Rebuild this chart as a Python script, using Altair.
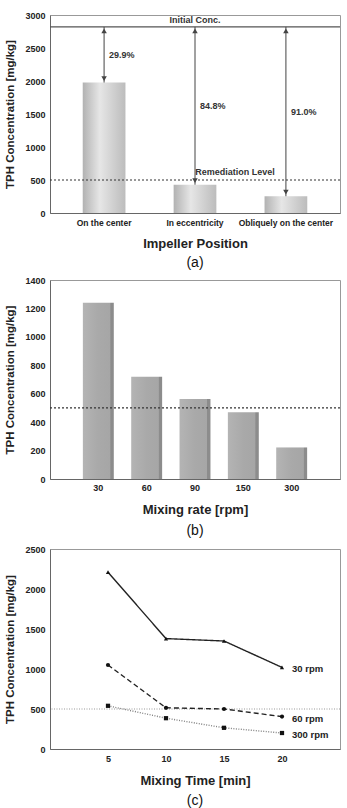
import altair as alt
import pandas as pd

FONT = "Liberation Sans"

# (a) TPH by impeller position
positions = ["On the center", "In eccentricity", "Obliquely on the center"]
tph_position = [1977, 429, 254]
removal_labels = ["29.9%", "84.8%", "91.0%"]
initial_conc = 2820
remediation_level = 500

# (b) TPH by mixing rate
mixing_rates = ["30", "60", "90", "150", "300"]
tph_rate = [1240, 720, 563, 470, 222]

# (c) TPH over mixing time for three mixing rates
mixing_times = [5, 10, 15, 20]
tph_30rpm = [2210, 1380, 1350, 1020]
tph_60rpm = [1050, 515, 500, 405]
tph_300rpm = [540, 385, 265, 200]
series_names = ["30 rpm", "60 rpm", "300 rpm"]

Y_TITLE = "TPH Concentration [mg/kg]"
PLOT_W = 290


def y_axis(values):
    return alt.Axis(values=values, format="d", title=Y_TITLE, labelPadding=5,
                    titlePadding=9, labelFontSize=9, titleFontSize=11.5)


def x_axis(title, label_size=8.5, label_pad=5, title_pad=8, **extra):
    return alt.Axis(title=title, labelAngle=0, labelPadding=label_pad,
                    titlePadding=title_pad, labelFontSize=label_size, titleFontSize=13,
                    **extra)


def sub_title(text, offset):
    return alt.TitleParams(text, orient="bottom", fontSize=14, fontWeight="normal",
                           offset=offset, anchor="middle", color="#111")


# ---------- panel (a) ----------
df_a = pd.DataFrame({"position": positions, "tph": tph_position,
                     "initial": [initial_conc] * len(positions),
                     "removal": removal_labels})
df_a["mid"] = (df_a["initial"] + df_a["tph"]) / 2

scale_ya = alt.Scale(domain=[0, 3000], nice=False)
axis_ya = y_axis(list(range(0, 3001, 500)))


def xa():
    return alt.X("position:N", sort=positions,
                 scale=alt.Scale(paddingInner=0.53, paddingOuter=0.36),
                 axis=x_axis("Impeller Position", title_pad=11))


def ya(field):
    return alt.Y(field, scale=scale_ya, axis=axis_ya)


cyl_fill = alt.Gradient(
    gradient="linear", x1=0, x2=1, y1=0, y2=0,
    stops=[alt.GradientStop(color="#b2b2b2", offset=0),
           alt.GradientStop(color="#e6e6e6", offset=0.4),
           alt.GradientStop(color="#bcbcbc", offset=1)])

base_a = alt.Chart(df_a)
bars_a = base_a.mark_bar(color=cyl_fill).encode(x=xa(), y=ya("tph:Q"))
arrows_a = base_a.mark_rule(color="#444", strokeWidth=1).encode(
    x=xa(), y=ya("initial:Q"), y2="tph:Q")
head_up = base_a.mark_point(shape="triangle-up", filled=True, size=30, color="#444",
                            opacity=1, yOffset=4).encode(x=xa(), y=ya("initial:Q"))
head_down = base_a.mark_point(shape="triangle-down", filled=True, size=30, color="#444",
                              opacity=1, yOffset=-4).encode(x=xa(), y=ya("tph:Q"))
pct_a = base_a.mark_text(align="left", dx=5, font=FONT, fontWeight="bold", fontSize=9,
                         color="#333").encode(x=xa(), y=ya("mid:Q"), text="removal:N")

ref_a = pd.DataFrame({"initial": [initial_conc], "remed": [remediation_level]})
init_line = alt.Chart(ref_a).mark_rule(color="#555", strokeWidth=1.2).encode(y=ya("initial:Q"))
init_text = alt.Chart(ref_a).mark_text(font=FONT, fontWeight="bold", fontSize=9, color="#333",
                                       dy=-7).encode(x=alt.value(PLOT_W / 2), y=ya("initial:Q"),
                                                     text=alt.value("Initial Conc."))
remed_line_a = alt.Chart(ref_a).mark_rule(color="#333", strokeWidth=1.2, strokeDash=[2, 2]).encode(
    y=ya("remed:Q"))
remed_text = alt.Chart(ref_a).mark_text(font=FONT, fontWeight="bold", fontSize=9, color="#333",
                                        dy=-8).encode(x=alt.value(185), y=ya("remed:Q"),
                                                      text=alt.value("Remediation Level"))

panel_a = alt.layer(bars_a, init_line, remed_line_a, arrows_a, head_up, head_down, pct_a,
                    init_text, remed_text).properties(
    width=PLOT_W, height=198, title=sub_title("(a)", 5))

# ---------- panel (b) ----------
df_b = pd.DataFrame({"rate": mixing_rates, "tph": tph_rate})
scale_yb = alt.Scale(domain=[0, 1400], nice=False)
axis_yb = y_axis(list(range(0, 1401, 200)))

granite_fill = alt.Gradient(
    gradient="linear", x1=0, x2=1, y1=0, y2=0,
    stops=[alt.GradientStop(color="#b4b4b4", offset=0),
           alt.GradientStop(color="#a9a9a9", offset=0.5),
           alt.GradientStop(color="#a6a6a6", offset=0.88),
           alt.GradientStop(color="#8c8c8c", offset=0.9),
           alt.GradientStop(color="#8c8c8c", offset=1)])

xb = alt.X("rate:N", sort=mixing_rates,
           scale=alt.Scale(paddingInner=0.36, paddingOuter=0.68),
           axis=x_axis("Mixing rate [rpm]", label_size=9, label_pad=4, title_pad=11))
bars_b = alt.Chart(df_b).mark_bar(color=granite_fill).encode(
    x=xb, y=alt.Y("tph:Q", scale=scale_yb, axis=axis_yb))
remed_line_b = alt.Chart(pd.DataFrame({"tph": [remediation_level]})).mark_rule(
    color="#333", strokeWidth=1.2, strokeDash=[2, 2]).encode(
    y=alt.Y("tph:Q", scale=scale_yb, axis=axis_yb))

panel_b = alt.layer(bars_b, remed_line_b).properties(
    width=PLOT_W, height=199, title=sub_title("(b)", 8))

# ---------- panel (c) ----------
rows = []
for name, vals in zip(series_names, [tph_30rpm, tph_60rpm, tph_300rpm]):
    for t, v in zip(mixing_times, vals):
        rows.append({"time": t, "tph": v, "series": name})
df_c = pd.DataFrame(rows)

scale_yc = alt.Scale(domain=[0, 2500], nice=False)
axis_yc = y_axis(list(range(0, 2501, 500)))
xc = alt.X("time:Q", scale=alt.Scale(domain=[0, 25], nice=False),
           axis=x_axis("Mixing Time [min]", label_size=9, label_pad=5, title_pad=11,
                       values=mixing_times))
yc = alt.Y("tph:Q", scale=scale_yc, axis=axis_yc)

sdom = alt.Scale(domain=series_names, range=["#222222", "#222222", "#808080"])
lines_c = alt.Chart(df_c).mark_line().encode(
    x=xc, y=yc,
    color=alt.Color("series:N", scale=sdom, legend=None),
    strokeDash=alt.StrokeDash("series:N", legend=None,
                              scale=alt.Scale(domain=series_names,
                                              range=[[1, 0], [5, 3], [1, 1.5]])),
    strokeWidth=alt.StrokeWidth("series:N", legend=None,
                                scale=alt.Scale(domain=series_names, range=[1.4, 1.4, 1.0])))
points_c = alt.Chart(df_c).mark_point(filled=True, size=18, color="#111", opacity=1).encode(
    x=xc, y=yc,
    shape=alt.Shape("series:N", legend=None,
                    scale=alt.Scale(domain=series_names,
                                    range=["triangle-up", "circle", "square"])))
labels_c = alt.Chart(df_c).transform_filter(alt.datum.time == max(mixing_times)).mark_text(
    align="left", dx=10, dy=2, font=FONT, fontWeight="bold", fontSize=9.5, color="#222").encode(
    x=xc, y=yc, text="series:N")
remed_line_c = alt.Chart(pd.DataFrame({"tph": [remediation_level]})).mark_rule(
    color="#999", strokeWidth=1, strokeDash=[1, 1.5]).encode(y=yc)

panel_c = alt.layer(remed_line_c, lines_c, points_c, labels_c).properties(
    width=PLOT_W, height=200, title=sub_title("(c)", 7))

chart = alt.vconcat(panel_a, panel_b, panel_c, spacing=5).properties(
    padding={"left": 4, "top": 10, "right": 5, "bottom": 0},
    background="white",
).configure_view(stroke="#999", strokeWidth=1).configure_axis(
    labelFont=FONT, titleFont=FONT, labelFontWeight="bold", titleFontWeight="bold",
    labelColor="#222", titleColor="#222", domainColor="#666", ticks=False, grid=False,
).configure_title(font=FONT)

chart.save("out.html", embed_options={"renderer": "svg", "actions": False})
